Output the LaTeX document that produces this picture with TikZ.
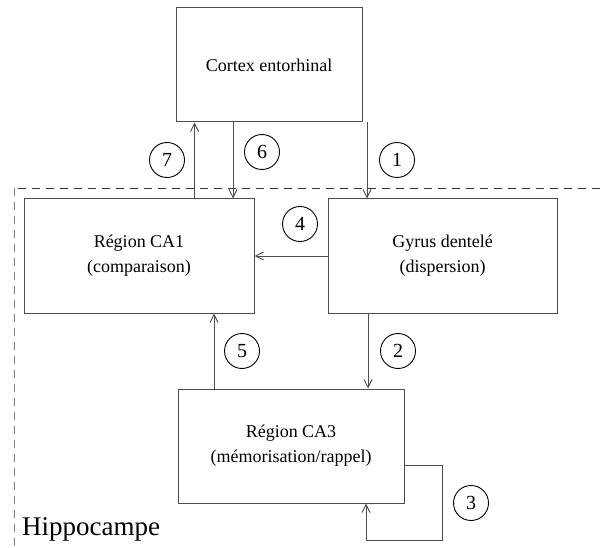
\documentclass[tikz,border=0pt]{standalone}
\usepackage{fontspec}
\setmainfont{Liberation Serif}
\usetikzlibrary{arrows.meta}
\begin{document}
\begin{tikzpicture}[x=1pt,y=-1pt,
  box/.style={draw=black!70, line width=1pt, inner sep=0pt, minimum height=114pt, font=\fontsize{18}{25}\selectfont, align=center},
  conn/.style={draw=black!70, line width=1pt, -{Straight Barb[length=8pt,width=8pt]}},
  num/.style={circle, draw=black, line width=0.9pt, minimum size=35pt, inner sep=0pt, font=\fontsize{20}{22}\selectfont}]
\useasboundingbox (0,0) rectangle (605,548);
\node[box, minimum width=186pt] (ctx) at (269,65) {Cortex entorhinal};
\node[box, minimum width=230pt] (ca1) at (139,256) {Région CA1\\(comparaison)};
\node[box, minimum width=229pt] (gyr) at (442.5,256) {Gyrus dentelé\\(dispersion)};
\node[box, minimum width=226pt] (ca3) at (291,446) {Région CA3\\(mémorisation/rappel)};
\draw[dash pattern=on 8pt off 6pt, draw=black!80, line width=0.9pt] (600,188) -- (14,188);
\draw[dash pattern=on 8pt off 6pt, draw=black!50, line width=0.9pt] (14,188) -- (14,548);
\node[anchor=base west, font=\fontsize{27}{30}\selectfont, inner sep=0pt] (hip) at (22,535) {Hippocampe};
\draw[conn] (ca1.north -| 194.5,0) -- (ctx.south -| 194.5,0);
\draw[conn] (ctx.south -| 233,0) -- (ca1.north -| 233,0);
\draw[conn] (ctx.south -| 367,0) -- (gyr.north -| 367,0);
\draw[conn] (gyr.west) -- (ca1.east);
\draw[conn] (gyr.south -| 368,0) -- (ca3.north -| 368,0);
\draw[conn] (ca3.north -| 214,0) -- (ca1.south -| 214,0);
\coordinate (l1) at (442,465);
\coordinate (l2) at (442,540);
\coordinate (l3) at (366,540);
\draw[conn] (ca3.east |- l1) -- (l1) -- (l2) -- (l3) -- (ca3.south -| l3);
\node[num] (n7) at (167,160) {7};
\node[num] (n6) at (262,152) {6};
\node[num] (n1) at (397,160) {1};
\node[num] (n4) at (300,224) {4};
\node[num] (n2) at (398,351) {2};
\node[num] (n5) at (242,351) {5};
\node[num] (n3) at (471,503) {3};
\end{tikzpicture}
\end{document}
